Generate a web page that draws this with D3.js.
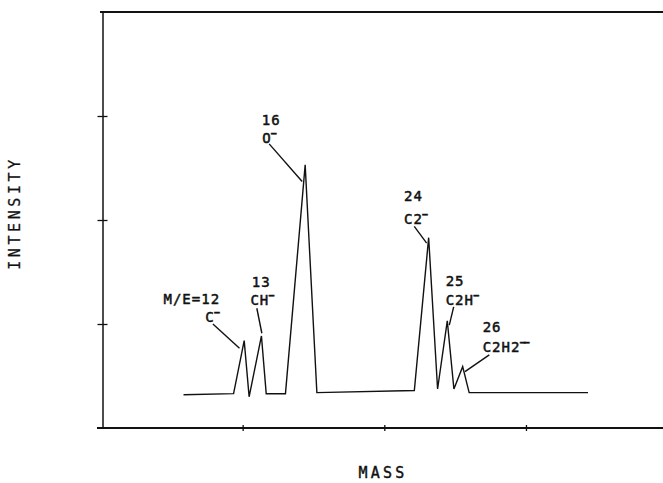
<!DOCTYPE html>
<html>
<head>
<meta charset="utf-8">
<script src="https://cdn.jsdelivr.net/npm/d3@7/dist/d3.min.js"></script>
<style>
  html, body { margin: 0; padding: 0; background: #fff; }
  svg { display: block; }
  text { font-family: "DejaVu Sans Mono", monospace; fill: #111; }
</style>
</head>
<body>
<script>
// ---- Data ----
const traceMass      = [8.06, 11.31, 12.0, 12.32, 13.12, 13.43, 14.68, 15.96, 16.72, 23.05, 23.98, 24.56, 25.19, 25.62, 26.19, 26.61, 34.33];
const traceIntensity = [3.2,  3.3,   8.4,  3.0,   8.85,  3.3,   3.3,   25.3,  3.4,   3.6,   18.3,  3.75,  10.3,  3.75,  5.9,   3.4,   3.4];

const peakMass      = [12.0, 13.12, 15.96, 23.98, 25.19, 26.19];
const peakIntensity = [8.4,  8.85,  25.3,  18.3,  10.3,  5.9];
const massLabels    = ["M/E=12", "13", "16", "24", "25", "26"];
const ionLabels     = ["C", "CH", "O", "C2", "C2H", "C2H2"];
const ionCharges    = ["−", "−", "−", "−", "−", "−−"];

const xTickValues = [11.9, 21.1, 30.3];
const yTickValues = [10, 20, 30];

// ---- Layout ----
const W = 663, H = 483;
const x = d3.scaleLinear().domain([2.7, 39.2]).range([101, 663]);
const y = d3.scaleLinear().domain([0, 40]).range([428, 12]);

// annotation layout offsets (px) relative to each peak
const annLayout = [
  { l1: [-80.7, -36.7], l2: [-39, -19],   a: [-31.3, -16.7], b: [-4.7, 7.6] },
  { l1: [-9.6, -49.3],  l2: [-11, -31],   a: [-4.6, -27.7],  b: [0.4, -2.7] },
  { l1: [-43.3, -40],   l2: [-43, -22],   a: [-36, -21],     b: [-3, 16.7] },
  { l1: [-24.7, -36.3], l2: [-24.7, -14], a: [-14.4, -11.3], b: [-2, 5.4] },
  { l1: [-1.6, -34.7],  l2: [-1.6, -15.7],a: [6.4, -14],     b: [2, 4.3] },
  { l1: [20, -35],      l2: [20, -15],    a: [26.6, -11.7],  b: [2.3, 5] }
];

const svg = d3.select("body").append("svg").attr("width", W).attr("height", H);
svg.append("rect").attr("width", W).attr("height", H).attr("fill", "#fff");

// Axes
const xAxis = d3.axisBottom(x).tickValues(xTickValues).tickFormat("").tickSizeOuter(0);
const gx = svg.append("g").attr("transform", `translate(0,${y(0)})`).call(xAxis);
gx.select(".domain").attr("d", `M97,0H663`).attr("stroke", "#111").attr("stroke-width", 1.8);
gx.selectAll(".tick line").attr("y1", -3).attr("y2", 3).attr("stroke", "#111").attr("stroke-width", 1.3);

const yAxis = d3.axisLeft(y).tickValues(yTickValues).tickFormat("").tickSizeOuter(0);
const gy = svg.append("g").attr("transform", `translate(102.5,0)`).call(yAxis);
gy.select(".domain").attr("stroke", "#111").attr("stroke-width", 1.5);
gy.selectAll(".tick line").attr("x1", -5).attr("x2", 5).attr("stroke", "#111").attr("stroke-width", 1.3);

// top frame line
svg.append("line").attr("x1", 100).attr("x2", 663).attr("y1", y(40)).attr("y2", y(40))
  .attr("stroke", "#111").attr("stroke-width", 2);

// Trace
const pts = traceMass.map((m, i) => [m, traceIntensity[i]]);
svg.append("path")
  .attr("d", d3.line().x(d => x(d[0])).y(d => y(d[1]))(pts))
  .attr("fill", "none").attr("stroke", "#111").attr("stroke-width", 1.4)
  .attr("stroke-linejoin", "miter");

// Annotations
peakMass.forEach((m, i) => {
  const px = x(m), py = y(peakIntensity[i]);
  const L = annLayout[i];
  svg.append("line")
    .attr("x1", px + L.a[0]).attr("y1", py + L.a[1])
    .attr("x2", px + L.b[0]).attr("y2", py + L.b[1])
    .attr("stroke", "#111").attr("stroke-width", 1.4);
  svg.append("text")
    .attr("x", px + L.l1[0]).attr("y", py + L.l1[1])
    .attr("font-size", 14).attr("letter-spacing", 1)
    .attr("stroke", "#111").attr("stroke-width", 0.5)
    .text(massLabels[i]);
  const t = svg.append("text")
    .attr("x", px + L.l2[0]).attr("y", py + L.l2[1])
    .attr("font-size", 14).attr("letter-spacing", 1)
    .attr("stroke", "#111").attr("stroke-width", 0.5);
  t.append("tspan").text(ionLabels[i]);
  t.append("tspan").attr("font-size", 10).attr("dy", -6).attr("dx", -1)
    .attr("letter-spacing", -2).attr("font-weight", "bold").text(ionCharges[i]);
});

// Axis titles
svg.append("text")
  .attr("transform", `translate(20,213) rotate(-90)`)
  .attr("text-anchor", "middle")
  .attr("font-family", "Liberation Mono, monospace")
  .attr("font-size", 15).attr("letter-spacing", 3.6)
  .attr("stroke", "#111").attr("stroke-width", 0.25)
  .text("INTENSITY");

svg.append("text")
  .attr("x", 383).attr("y", 478)
  .attr("text-anchor", "middle")
  .attr("font-size", 15).attr("letter-spacing", 3.2)
  .attr("stroke", "#111").attr("stroke-width", 0.4)
  .text("MASS");
</script>
</body>
</html>
